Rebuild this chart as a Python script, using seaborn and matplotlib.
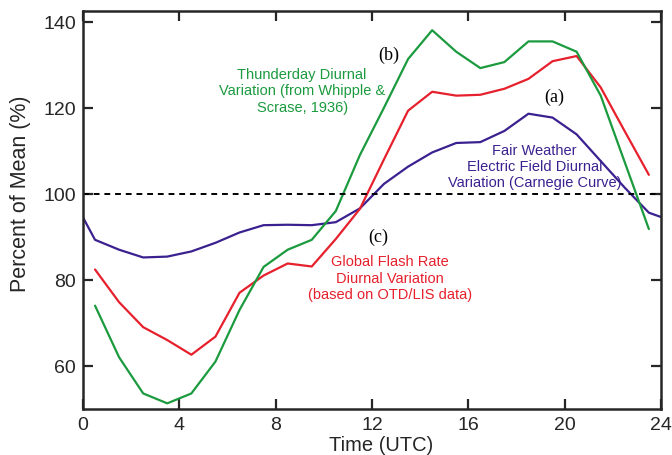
import numpy as np
import pandas as pd
import matplotlib
matplotlib.use("Agg")
import matplotlib.pyplot as plt
import seaborn as sns

# hours (UTC) at which the curves are sampled
hours = [0.5, 1.5, 2.5, 3.5, 4.5, 5.5, 6.5, 7.5, 8.5, 9.5, 10.5, 11.5,
         12.5, 13.5, 14.5, 15.5, 16.5, 17.5, 18.5, 19.5, 20.5, 21.5, 22.5, 23.5]

# (b) thunderday diurnal variation (Whipple & Scrase, 1936)
thunderday = [74, 62, 53.6, 51.3, 53.6, 61, 73, 83, 87, 89.3, 96, 109,
              120, 131.3, 138, 133, 129.2, 130.6, 135.4, 135.4, 133, 122.8, 107.3, 91.8]

# (c) global flash rate (OTD/LIS)
flash_rate = [82.4, 74.8, 69, 66, 62.6, 66.8, 77, 81, 83.8, 83.1, 89.5, 96.5,
              108, 119.3, 123.7, 122.8, 123, 124.4, 126.7, 130.8, 132, 124.7, 114.5, 104.4]

# (a) Carnegie curve, with the day ends at 0 and 24 h
carnegie_hours = [0] + hours + [24]
carnegie = [94.5, 89.3, 87, 85.2, 85.4, 86.6, 88.6, 91, 92.7, 92.8, 92.7, 93.4, 96.6,
            102.3, 106.3, 109.6, 111.8, 112, 114.6, 118.6, 117.7, 113.8, 107.6, 101.4, 95.6, 94.6]

GREEN = "#1b9a3e"
RED = "#e6202c"
PURPLE = "#3b2190"

sns.set_style("ticks")
plt.rcParams["font.family"] = ["Liberation Sans", "DejaVu Sans"]

df_b = pd.DataFrame({"hour": hours, "pct": thunderday})
df_c = pd.DataFrame({"hour": hours, "pct": flash_rate})
df_a = pd.DataFrame({"hour": carnegie_hours, "pct": carnegie})

fig = plt.figure(figsize=(6.72, 4.56), dpi=100)
ax = fig.add_axes([0.1235, 0.101, 0.86, 0.873])

sns.lineplot(data=df_a, x="hour", y="pct", color=PURPLE, lw=1.6, ax=ax)
sns.lineplot(data=df_c, x="hour", y="pct", color=RED, lw=1.6, ax=ax)
sns.lineplot(data=df_b, x="hour", y="pct", color=GREEN, lw=1.6, ax=ax)
ax.axhline(100, color="black", lw=1.4, ls=(0, (3, 2.5)))

ax.set_xlim(0, 24)
ax.set_ylim(50, 142.5)
ax.set_xticks(range(0, 25, 4))
ax.set_yticks([60, 80, 100, 120, 140])
ax.tick_params(direction="in", top=True, right=True, length=7, width=1.6,
               labelsize=14, pad=5)
for s in ax.spines.values():
    s.set_linewidth(1.8)
ax.set_xlabel("Time (UTC)", fontsize=14.5)
ax.set_ylabel("Percent of Mean (%)", fontsize=15.5)
ax.xaxis.set_label_coords(0.516, -0.065)
ax.yaxis.set_label_coords(-0.09, 0.543)

fs = 10.5
serif = ["Liberation Serif", "DejaVu Serif"]
ax.text(9.1, 124, "Thunderday Diurnal\nVariation (from Whipple &\nScrase, 1936)",
        color=GREEN, fontsize=fs, ha="center", va="center", linespacing=1.2)
ax.text(12.7, 132.5, "(b)", color="black", fontsize=13, ha="center", va="center", family=serif)
ax.text(19.55, 122.7, "(a)", color="black", fontsize=13, ha="center", va="center", family=serif)
ax.text(18.75, 106.5, "Fair Weather\nElectric Field Diurnal\nVariation (Carnegie Curve)",
        color=PURPLE, fontsize=fs, ha="center", va="center", linespacing=1.2)
ax.text(12.25, 90.1, "(c)", color="black", fontsize=13, ha="center", va="center", family=serif)
ax.text(12.75, 80.5, "Global Flash Rate\nDiurnal Variation\n(based on OTD/LIS data)",
        color=RED, fontsize=fs, ha="center", va="center", linespacing=1.2)

fig.savefig("out.png", dpi=100)
